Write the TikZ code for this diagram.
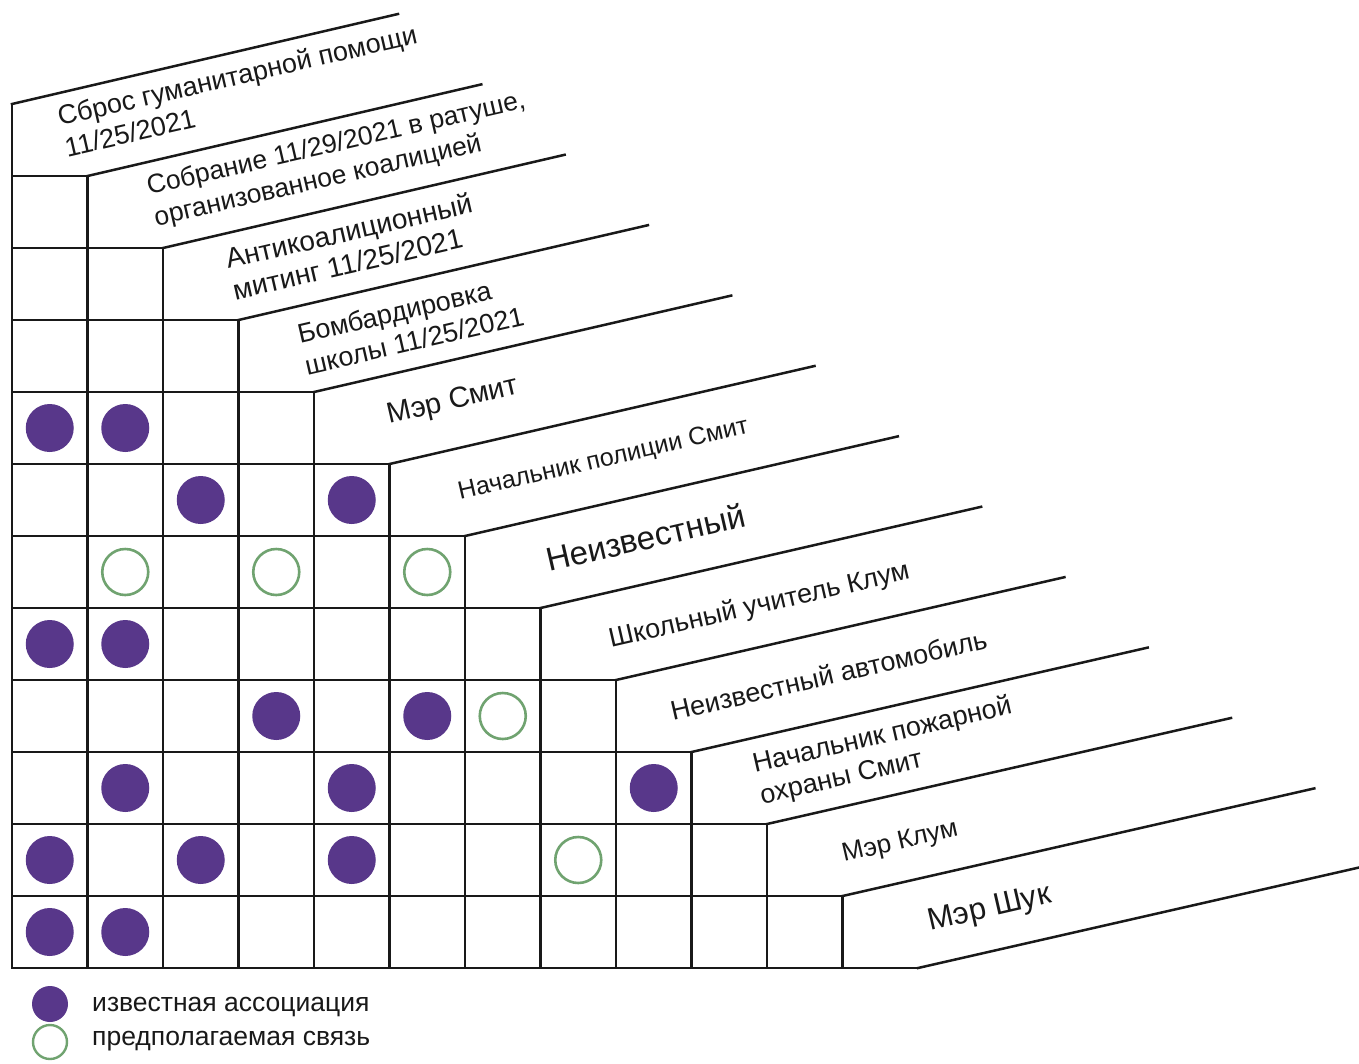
\documentclass[tikz,border=0pt]{standalone}
\usepackage{fontspec}
\setmainfont{Liberation Sans}
\definecolor{purp}{RGB}{88,55,138}
\definecolor{grn}{RGB}{112,163,112}
\definecolor{ink}{RGB}{25,25,25}
\begin{document}
\begin{tikzpicture}[x=1pt,y=-1pt,
  gridline/.style={line width=2.5pt, draw=ink, line cap=rect},
  lbl/.style={rotate=13, anchor=base west, inner sep=0pt, text=ink},
  known/.style={circle, fill=purp, inner sep=0pt, minimum size=48pt},
  guess/.style={circle, draw=grn, line width=2.6pt, inner sep=0pt, minimum size=46pt},
  lknown/.style={circle, fill=purp, inner sep=0pt, minimum size=36pt},
  lguess/.style={circle, draw=grn, line width=2.4pt, inner sep=0pt, minimum size=34pt},
  ltext/.style={anchor=base west, inner sep=0pt, font=\fontsize{26.5}{30}\selectfont, text=ink}]
\fill[white] (0,0) rectangle (1359,1063);
\useasboundingbox (0,0) rectangle (1359,1063);
% grid
\foreach \k in {0,...,11}{
  \coordinate (v\k) at ({12+75.5*\k},{104+72*\k});
  \draw[gridline] (v\k) -- ({12+75.5*\k},968);
  \draw[gridline] (v\k) -- ({398+83.3*\k},{14+70.4*\k});
}
\foreach \k in {1,...,12}{
  \draw[gridline] (12,{104+72*\k}) -- ({12+75.5*\k},{104+72*\k});
}
\coordinate (v12) at (918,968);
\coordinate (e12) at (1359,867.5);
\draw[gridline] (v12) -- (e12);
% labels
\node[lbl, font=\fontsize{27}{32}\selectfont] (l0) at (60,126)
  {\begin{tabular}[t]{@{}l@{}}Сброс гуманитарной помощи\\11/25/2021\end{tabular}};
\node[lbl, font=\fontsize{26.5}{32}\selectfont] (l1) at (149,195)
  {\begin{tabular}[t]{@{}l@{}}Собрание 11/29/2021 в ратуше,\\организованное коалицией\end{tabular}};
\node[lbl, font=\fontsize{28}{32}\selectfont] (l2) at (228,269)
  {\begin{tabular}[t]{@{}l@{}}Антикоалиционный\\митинг 11/25/2021\end{tabular}};
\node[lbl, font=\fontsize{27}{32}\selectfont] (l3) at (300,344)
  {\begin{tabular}[t]{@{}l@{}}Бомбардировка\\школы 11/25/2021\end{tabular}};
\node[lbl, font=\fontsize{29}{30}\selectfont] (l4) at (389,424) {Мэр Смит};
\node[lbl, font=\fontsize{25}{30}\selectfont] (l5) at (460,500) {Начальник полиции Смит};
\node[lbl, font=\fontsize{33}{30}\selectfont] (l6) at (549,572) {Неизвестный};
\node[lbl, font=\fontsize{27}{30}\selectfont] (l7) at (611,648) {Школьный учитель Клум};
\node[lbl, font=\fontsize{27}{30}\selectfont] (l8) at (673,721) {Неизвестный автомобиль};
\node[lbl, font=\fontsize{27}{32}\selectfont] (l9) at (755,773)
  {\begin{tabular}[t]{@{}l@{}}Начальник пожарной\\охраны Смит\end{tabular}};
\node[lbl, font=\fontsize{26}{30}\selectfont] (l10) at (844,862) {Мэр Клум};
\node[lbl, font=\fontsize{31}{30}\selectfont] (l11) at (930,931) {Мэр Шук};
% associations: (row,col) -> centre
\foreach \r/\c [count=\i] in {4/1,4/2,5/3,5/5,7/1,7/2,8/4,8/6,9/2,9/5,9/9,10/1,10/3,10/5,11/1,11/2}{
  \node[known] (k\i) at ({49.75+75.5*(\c-1)},{140+72*\r}) {};
}
\foreach \r/\c [count=\i] in {6/2,6/4,6/6,8/7,10/8}{
  \node[guess] (g\i) at ({49.75+75.5*(\c-1)},{140+72*\r}) {};
}
% legend
\node[lknown] (lk) at (50,1004) {};
\node[lguess] (lg) at (50,1042) {};
\node[ltext] (lkt) at (92,1011) {известная ассоциация};
\node[ltext] (lgt) at (92,1045) {предполагаемая связь};
\end{tikzpicture}
\end{document}
